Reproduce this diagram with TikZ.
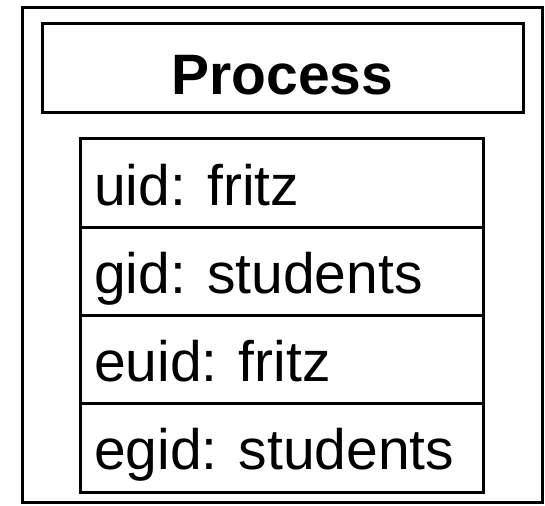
\documentclass[tikz,border=0pt]{standalone}
\usepackage{fontspec}
\setmainfont{Liberation Sans}
\begin{document}
\begin{tikzpicture}[x=1pt,y=-1pt,
  box/.style={draw,line width=3pt,inner sep=0pt,outer sep=0pt},
  rowtxt/.style={anchor=base west,inner sep=0pt,font=\fontsize{57}{57}\selectfont},
  title/.style={anchor=base,inner sep=0pt,font=\fontsize{57}{57}\selectfont\bfseries}]
\useasboundingbox (0,0) rectangle (545,505);
\node[box,minimum width=520pt,minimum height=494pt] (outer) at (282,255) {};
\node[box,minimum width=481pt,minimum height=89pt] (proc) at (282.5,68.5) {};
\node[title] (ptext) at (282.5,95) {Process};
\foreach \i/\t in {0/uid: fritz,1/gid: students,2/euid: fritz,3/egid: students}{
  \node[box,minimum width=403pt,minimum height=88.25pt] (row\i) at (281.5,{139+88.25*\i+44.125}) {};
  \node[rowtxt] (txt\i) at (94,{139+88.25*\i+66}) {\t};
}
\end{tikzpicture}
\end{document}
